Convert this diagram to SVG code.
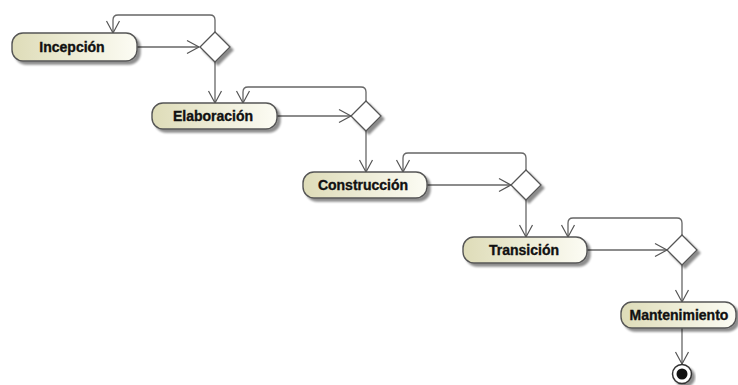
<svg xmlns="http://www.w3.org/2000/svg" width="738" height="385" viewBox="0 0 738 385">
  <defs>
    <linearGradient id="actFill" x1="0" y1="0" x2="1" y2="0">
      <stop offset="0" stop-color="#dedcb8"/>
      <stop offset="1" stop-color="#fcfcf4"/>
    </linearGradient>
    <filter id="shadow" x="-20%" y="-30%" width="140%" height="170%">
      <feGaussianBlur in="SourceAlpha" stdDeviation="1.2"/>
      <feOffset dx="2.5" dy="2.5" result="b"/>
      <feComponentTransfer><feFuncA type="linear" slope="0.45"/></feComponentTransfer>
      <feMerge><feMergeNode/><feMergeNode in="SourceGraphic"/></feMerge>
    </filter>
    <marker id="open" markerWidth="16" markerHeight="16" refX="13" refY="8" orient="auto" markerUnits="userSpaceOnUse">
      <path d="M1,1.5 L13,8 L1,14.5" fill="none" stroke="#555" stroke-width="1.2"/>
    </marker>
  </defs>
  <style>
    .act { fill: url(#actFill); stroke: #555; stroke-width: 1.4; filter: url(#shadow); }
    .dec { fill: #ffffff; stroke: #555; stroke-width: 1.3; filter: url(#shadow); }
    .lbl { font-family: "Liberation Sans", Arial, sans-serif; font-weight: bold; font-size: 14px; fill: #111; stroke: #111; stroke-width: 0.35; text-anchor: middle; }
    .flow { fill: none; stroke: #666; stroke-width: 1.3; marker-end: url(#open); }
  </style>
  <rect width="738" height="385" fill="#ffffff"/>

  <g id="connectors">
    <!-- Incepcion -->
    <path class="flow" d="M137,47 H199"/>
    <path class="flow" d="M215,32 V20 Q215,15 210,15 H118 Q113,15 113,20 V33"/>
    <path class="flow" d="M215,62 V103"/>
    <!-- Elaboracion -->
    <path class="flow" d="M277,116 H351"/>
    <path class="flow" d="M366,101 V92 Q366,87 361,87 H248 Q243,87 243,92 V103"/>
    <path class="flow" d="M366,131 V172"/>
    <!-- Construccion -->
    <path class="flow" d="M427,185 H511"/>
    <path class="flow" d="M526,170 V158 Q526,153 521,153 H408 Q403,153 403,158 V172"/>
    <path class="flow" d="M526,200 V237"/>
    <!-- Transicion -->
    <path class="flow" d="M587,250 H667"/>
    <path class="flow" d="M682,235 V223 Q682,218 677,218 H573 Q568,218 568,223 V237"/>
    <path class="flow" d="M682,265 V302"/>
    <!-- Mantenimiento -->
    <path class="flow" d="M682,328 V364"/>
  </g>

  <g id="incepcion">
    <rect class="act" x="12" y="33" width="125" height="28" rx="11"/>
    <text class="lbl" x="72" y="52">Incepción</text>
  </g>
  <g id="decision1">
    <path class="dec" d="M215,32 L230,47 L215,62 L200,47 Z"/>
  </g>

  <g id="elaboracion">
    <rect class="act" x="152" y="103" width="125" height="26" rx="11"/>
    <text class="lbl" x="213" y="121">Elaboración</text>
  </g>
  <g id="decision2">
    <path class="dec" d="M366,101 L381,116 L366,131 L351,116 Z"/>
  </g>

  <g id="construccion">
    <rect class="act" x="303" y="172" width="124" height="26" rx="11"/>
    <text class="lbl" x="363" y="190">Construcción</text>
  </g>
  <g id="decision3">
    <path class="dec" d="M526,170 L541,185 L526,200 L511,185 Z"/>
  </g>

  <g id="transicion">
    <rect class="act" x="463" y="237" width="124" height="26" rx="11"/>
    <text class="lbl" x="524" y="255">Transición</text>
  </g>
  <g id="decision4">
    <path class="dec" d="M682,235 L697,250 L682,265 L667,250 Z"/>
  </g>

  <g id="mantenimiento">
    <rect class="act" x="621" y="302" width="115" height="26" rx="11"/>
    <text class="lbl" x="679" y="320">Mantenimiento</text>
  </g>

  <g id="final">
    <circle cx="682" cy="374" r="9.5" fill="#ffffff" stroke="#333" stroke-width="1.5" filter="url(#shadow)"/>
    <circle cx="682" cy="374" r="5.5" fill="#111"/>
  </g>
</svg>
